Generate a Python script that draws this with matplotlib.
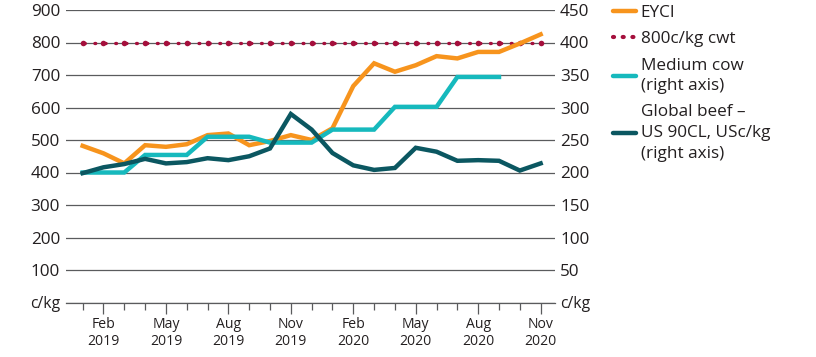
import numpy as np
import pandas as pd
import matplotlib
matplotlib.use("Agg")
import matplotlib.pyplot as plt
from matplotlib.lines import Line2D

# ---------------- data ----------------
months = pd.period_range("2019-01", "2020-11", freq="M")
eyci = [482, 459, 428, 484, 479, 487, 515, 520, 484, 497, 515, 500,
        536, 666, 736, 710, 730, 758, 751, 771, 771, 797, 825]
cwt800 = [800] * 23
medium_cow = [200, 200, 200, 227, 227, 227, 255, 255, 255, 246, 246, 246,
              266, 266, 266, 301, 301, 301, 347, 347, 347, np.nan, np.nan]
global_beef = [199, 208, 213, 221, 214, 216, 222, 219, 225, 237, 290, 266,
               230, 211, 204, 207, 238, 232, 218, 219, 218, 203, 214]
left_ticks = [0, 100, 200, 300, 400, 500, 600, 700, 800, 900]
right_ticks = [0, 50, 100, 150, 200, 250, 300, 350, 400, 450]
unit_label = "c/kg"
labels = ["EYCI", "800c/kg cwt", "Medium cow\n(right axis)",
          "Global beef –\nUS 90CL, USc/kg\n(right axis)"]

# ---------------- style ----------------
FONT = ["Open Sans", "DejaVu Sans"]
plt.rcParams["font.family"] = FONT
FS_Y = 12.3
FS_X = 10.1
FS_LEG = 12.3
FS_UNIT = 11.3
TXT = "#231f20"
GRID = "#5a5b5d"
ORANGE = "#f7941d"
CRIMSON = "#a50f3c"
CYAN = "#16b9bd"
TEAL = "#0b5761"

fig = plt.figure(figsize=(8.16, 3.57), dpi=100)
ax = fig.add_axes([66 / 816, 1 - 302.5 / 357, (555 - 66) / 816, (302.5 - 10) / 357])
ax2 = ax.twinx()

x = np.arange(len(months))
ax.set_xlim(-0.8, len(months) - 1 + 0.69)
ax.set_ylim(0, 900)
ax2.set_ylim(0, 450)

for s in list(ax.spines.values()) + list(ax2.spines.values()):
    s.set_visible(False)

# gridlines
ax.set_yticks(left_ticks)
ax.yaxis.grid(True, color=GRID, lw=0.9)
ax.set_axisbelow(True)
ax.axhline(0, color=GRID, lw=0.9, clip_on=False, zorder=0.5)
ax.set_yticklabels([unit_label if t == 0 else str(t) for t in left_ticks])
ax2.set_yticks(right_ticks)
ax2.set_yticklabels([unit_label if t == 0 else str(t) for t in right_ticks])
ax.tick_params(axis="y", length=0, pad=4.3, labelsize=FS_Y, labelcolor=TXT)
ax2.tick_params(axis="y", length=0, pad=3.6, labelsize=FS_Y, labelcolor=TXT)
for a in (ax, ax2):
    for lab in a.get_yticklabels():
        if lab.get_text() == unit_label:
            lab.set_fontsize(FS_UNIT)

# x ticks
major = [i for i, p in enumerate(months) if p.month in (2, 5, 8, 11)]
ax.set_xticks(major)
ax.set_xticklabels([f"{months[i].strftime('%b')}\n{months[i].year}" for i in major],
                   linespacing=1.22)
ax.set_xticks(x, minor=True)
ax.tick_params(axis="x", which="major", length=8.2, width=0.9, color=GRID,
               pad=2.0, labelsize=FS_X, labelcolor=TXT)
ax.tick_params(axis="x", which="minor", length=5.3, width=0.9, color=GRID)

# dotted 800 line: dots period = half a month in pixels
fig.canvas.draw()
bb = ax.get_window_extent()
px_per_month = bb.width / (ax.get_xlim()[1] - ax.get_xlim()[0])
dot_lw_pt = 2.4
period_pt = px_per_month / 2 * 72 / fig.dpi
on = 0.25
dot_ls = (-on / 2 * dot_lw_pt, (on, period_pt / dot_lw_pt - on))

ax2.set_zorder(ax.get_zorder() + 1)
ax2.patch.set_visible(False)

ax2.plot(x, np.array(cwt800) / 2, ls=dot_ls, lw=dot_lw_pt, color=CRIMSON,
         dash_capstyle="round", marker="o", ms=4.0, mew=0, zorder=2)
ax2.plot(x, np.array(eyci) / 2, color=ORANGE, lw=3.2, solid_joinstyle="miter", zorder=3)
ax2.plot(x, medium_cow, color=CYAN, lw=3.2, solid_joinstyle="miter", zorder=4)
ax2.plot(x, global_beef, color=TEAL, lw=3.2, solid_joinstyle="miter", zorder=5)

leg_dot_lw = 3.0
leg_period = 9.7 * 72 / 100 / leg_dot_lw
handles = [
    Line2D([], [], color=ORANGE, lw=3.2, solid_capstyle="round"),
    Line2D([], [], color=CRIMSON, lw=leg_dot_lw, ls=(0, (0.25, leg_period - 0.25)),
           dash_capstyle="round"),
    Line2D([], [], color=CYAN, lw=3.2, solid_capstyle="round"),
    Line2D([], [], color=TEAL, lw=3.2, solid_capstyle="round"),
]
leg = fig.legend(handles, labels, loc="upper left",
                 bbox_to_anchor=(613 / 816, 1 - 5 / 357), frameon=False,
                 fontsize=FS_LEG, handlelength=1.35, handletextpad=0.28,
                 labelspacing=0.6, borderpad=0, borderaxespad=0)
for t in leg.get_texts():
    t.set_color(TXT)
    t.set_linespacing(1.39)

fig.savefig("out.png", dpi=100)
